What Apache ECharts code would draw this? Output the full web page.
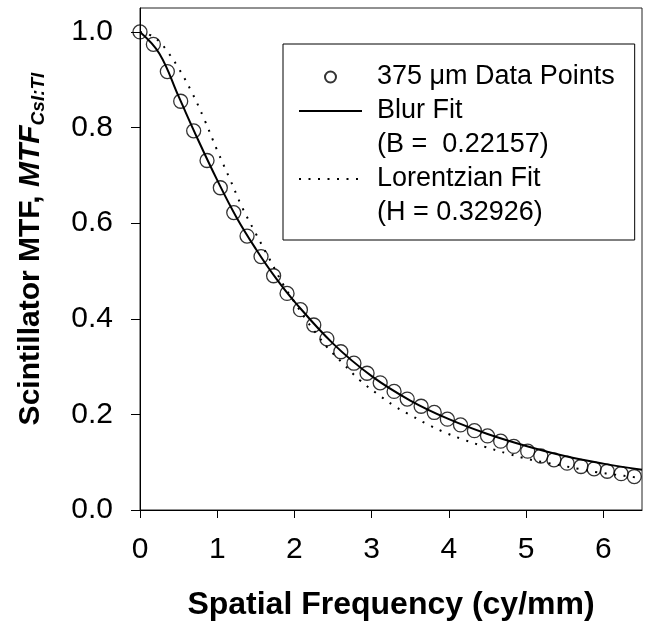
<!DOCTYPE html>
<html>
<head>
<meta charset="utf-8">
<script src="https://cdn.jsdelivr.net/npm/echarts@6/dist/echarts.min.js"></script>
<style>
html,body{margin:0;padding:0;background:#fff;}
#chart{width:646px;height:628px;}
</style>
</head>
<body>
<div id="chart"></div>
<script>
// ---- data ----
var dataX = [0, 0.173, 0.354, 0.527, 0.695, 0.868, 1.040, 1.214, 1.386, 1.567,
  1.730, 1.904, 2.077, 2.250, 2.420, 2.600, 2.770, 2.940, 3.110, 3.290,
  3.460, 3.640, 3.810, 3.980, 4.150, 4.330, 4.500, 4.670, 4.840, 5.020,
  5.190, 5.360, 5.530, 5.710, 5.880, 6.050, 6.230, 6.400];
var dataY = [1.000, 0.974, 0.917, 0.855, 0.793, 0.731, 0.674, 0.622, 0.573, 0.530,
  0.490, 0.453, 0.419, 0.387, 0.358, 0.331, 0.307, 0.286, 0.266, 0.248,
  0.232, 0.217, 0.204, 0.190, 0.178, 0.166, 0.155, 0.144, 0.133, 0.123,
  0.113, 0.105, 0.098, 0.091, 0.086, 0.081, 0.076, 0.070];

var blurX = [0, 0.25, 0.5, 0.75, 1.0, 1.25, 1.5, 1.75, 2.0, 2.5, 3.0, 3.5, 4.0, 4.5, 5.0, 5.5, 6.0, 6.5];
var blurY = [1.000, 0.955, 0.865, 0.775, 0.690, 0.612, 0.546, 0.487, 0.436, 0.348, 0.280, 0.229, 0.190, 0.159, 0.134, 0.113, 0.097, 0.084];

var lorX = [0, 0.125, 0.25, 0.333, 0.5, 0.67, 0.83, 1.0, 1.17, 1.32, 1.49, 1.67, 1.86, 2.0, 2.15, 2.32, 2.42, 2.63, 2.85, 3.08, 3.30, 3.53, 3.75, 3.98, 4.21, 4.45, 4.78, 5.01, 5.22, 5.46, 5.68, 5.92, 6.15, 6.39, 6.5];
var lorY = [1.000, 0.994, 0.980, 0.964, 0.924, 0.874, 0.818, 0.752, 0.690, 0.634, 0.581, 0.527, 0.470, 0.435, 0.398, 0.361, 0.341, 0.306, 0.271, 0.242, 0.217, 0.196, 0.177, 0.160, 0.146, 0.133, 0.117, 0.107, 0.100, 0.093, 0.086, 0.079, 0.074, 0.069, 0.067];

var xTicks = [0, 1, 2, 3, 4, 5, 6];
var yTicks = [0, 0.2, 0.4, 0.6, 0.8, 1.0];

var seriesNames = ['375 \u03bcm Data Points', 'Blur Fit', 'Lorentzian Fit'];
var paramNames = ['(B =  0.22157)', '(H = 0.32926)'];

// ---- chart ----
var FONT = "'Liberation Sans', Arial, Helvetica, sans-serif";
function pairs(xs, ys) { return xs.map(function (x, i) { return [x, ys[i]]; }); }

var chart = echarts.init(document.getElementById('chart'), null, {renderer: 'canvas'});
chart.setOption({
  animation: false,
  backgroundColor: '#fff',
  grid: {left: 140, top: 8, right: 4, bottom: 118, show: true, borderColor: '#222', borderWidth: 1, backgroundColor: 'transparent'},
  xAxis: {
    type: 'value', min: 0, max: 6.5,
    name: 'Spatial Frequency (cy/mm)', nameLocation: 'middle', nameGap: 79,
    nameTextStyle: {fontFamily: FONT, fontSize: 32, fontWeight: 'bold', color: '#000'},
    axisLine: {show: true, onZero: false, lineStyle: {color: '#000', width: 1}},
    axisTick: {show: true, inside: false, length: 8, customValues: xTicks, lineStyle: {color: '#000'}},
    axisLabel: {customValues: xTicks, margin: 25, fontFamily: FONT, fontSize: 30, color: '#000'},
    splitLine: {show: false}
  },
  yAxis: {
    type: 'value', min: 0, max: 1.05,
    name: '{s| }{a|Scintillator MTF, }{b|MTF}{c|CsI:Tl}', nameLocation: 'middle', nameGap: 92, nameRotate: 90,
    nameTextStyle: {
      fontFamily: FONT, color: '#000',
      rich: {
        s: {fontSize: 10, width: 20, lineHeight: 34},
        a: {fontFamily: FONT, fontSize: 30, fontWeight: 'bold', color: '#000', lineHeight: 34},
        b: {fontFamily: FONT, fontSize: 30, fontWeight: 'bold', fontStyle: 'italic', color: '#000', lineHeight: 34},
        c: {fontFamily: FONT, fontSize: 19, fontWeight: 'bold', fontStyle: 'italic', color: '#000', lineHeight: 20, verticalAlign: 'bottom'}
      }
    },
    axisLine: {show: true, onZero: false, lineStyle: {color: '#000', width: 1}},
    axisTick: {show: true, inside: false, length: 9, customValues: yTicks, lineStyle: {color: '#000'}},
    axisLabel: {customValues: yTicks, margin: 27, fontFamily: FONT, fontSize: 30, color: '#000',
      formatter: function (v) { return v.toFixed(1); }},
    splitLine: {show: false}
  },
  legend: {
    orient: 'vertical', left: 283, top: 44,
    padding: [16, 20, 10, 15],
    itemWidth: 63, itemHeight: 11, itemGap: 0,
    borderColor: '#000', borderWidth: 1, backgroundColor: '#fff',
    selectedMode: false,
    textStyle: {fontFamily: FONT, fontSize: 27, lineHeight: 34, color: '#000', padding: [0, 0, 0, 10]},
    data: [
      {name: seriesNames[0], icon: 'circle'},
      {name: seriesNames[1]},
      {name: paramNames[0], icon: 'none'},
      {name: seriesNames[2]},
      {name: paramNames[1], icon: 'none'}
    ]
  },
  series: [
    {
      name: seriesNames[1], type: 'line', data: pairs(blurX, blurY), smooth: 0.4,
      symbol: 'none', lineStyle: {color: '#000', width: 2}, itemStyle: {color: '#000', opacity: 0}, z: 3
    },
    {
      name: seriesNames[2], type: 'line', data: pairs(lorX, lorY), smooth: 0.4,
      symbol: 'none', lineStyle: {color: '#000', width: 2, type: [2, 7.5], cap: 'butt'}, itemStyle: {color: '#000', opacity: 0}, z: 2
    },
    {
      name: seriesNames[0], type: 'scatter', data: pairs(dataX, dataY), symbol: 'circle', symbolSize: 14,
      itemStyle: {color: 'rgba(255,255,255,0)', borderColor: '#000', borderWidth: 1.3}, z: 4, clip: false
    },
    {name: paramNames[0], type: 'line', data: [], symbol: 'none', lineStyle: {opacity: 0}},
    {name: paramNames[1], type: 'line', data: [], symbol: 'none', lineStyle: {opacity: 0}}
  ]
});
</script>
</body>
</html>
